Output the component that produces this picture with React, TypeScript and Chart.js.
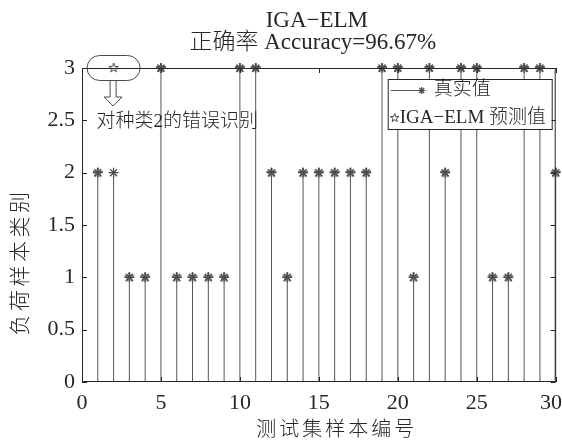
import React, { useEffect, useRef } from "react";
import { Chart, registerables } from "chart.js";

Chart.register(...registerables);

// ---- data ----
const samples = [1, 2, 3, 4, 5, 6, 7, 8, 9, 10, 11, 12, 13, 14, 15, 16, 17, 18, 19, 20, 21, 22, 23, 24, 25, 26, 27, 28, 29, 30];
const trueValues = [2, 2, 1, 1, 3, 1, 1, 1, 1, 3, 3, 2, 1, 2, 2, 2, 2, 2, 3, 3, 1, 3, 2, 3, 3, 1, 1, 3, 3, 2];
const predValues = [2, 3, 1, 1, 3, 1, 1, 1, 1, 3, 3, 2, 1, 2, 2, 2, 2, 2, 3, 3, 1, 3, 2, 3, 3, 1, 1, 3, 3, 2];
const titleLines = ["IGA\u2212ELM", "正确率 Accuracy=96.67%"];
const xLabel = "测试集样本编号";
const yLabel = "负荷样本类别";
const legendLabels = ["真实值", "IGA\u2212ELM 预测值"];
const annotationText = "对种类2的错误识别";
const wrongSample = 2;
const wrongValue = 3;

const AXIS = "#262626";
const STEM = "#555555";
const MARK = "#4a4a4a";
const FONT = '"Liberation Serif", "Noto Sans CJK SC", serif';
const W = 562;

function makePentagram(R: number, color: string): HTMLCanvasElement {
  const size = Math.ceil(R * 2 + 4);
  const c = document.createElement("canvas");
  c.width = size;
  c.height = size;
  const g = c.getContext("2d")!;
  drawPentagram(g, size / 2, size / 2, R, color);
  return c;
}

function drawPentagram(g: CanvasRenderingContext2D, cx: number, cy: number, R: number, color: string) {
  const r = R * 0.382;
  g.beginPath();
  for (let i = 0; i < 10; i++) {
    const ang = -Math.PI / 2 + (i * Math.PI) / 5;
    const rad = i % 2 === 0 ? R : r;
    const px = cx + rad * Math.cos(ang);
    const py = cy + rad * Math.sin(ang);
    if (i === 0) g.moveTo(px, py);
    else g.lineTo(px, py);
  }
  g.closePath();
  g.strokeStyle = color;
  g.lineWidth = 1;
  g.stroke();
}

function drawAsterisk(g: CanvasRenderingContext2D, cx: number, cy: number, r: number, color: string) {
  g.beginPath();
  g.moveTo(cx - r, cy);
  g.lineTo(cx + r, cy);
  g.moveTo(cx, cy - r);
  g.lineTo(cx, cy + r);
  const d = r * Math.SQRT1_2;
  g.moveTo(cx - d, cy - d);
  g.lineTo(cx + d, cy + d);
  g.moveTo(cx - d, cy + d);
  g.lineTo(cx + d, cy - d);
  g.strokeStyle = color;
  g.lineWidth = 1.2;
  g.stroke();
}

const decorPlugin = {
  id: "decor",
  afterDraw(chart: any) {
    const { ctx, chartArea: a, scales } = chart;
    const xs = scales.x;
    const ys = scales.y;
    ctx.save();

    // axes box
    ctx.strokeStyle = AXIS;
    ctx.lineWidth = 1;
    ctx.strokeRect(a.left + 0.5, a.top + 0.5, a.right - a.left - 1, a.bottom - a.top - 1);

    // inward ticks
    ctx.beginPath();
    xs.ticks.forEach((t: any) => {
      const px = Math.round(xs.getPixelForValue(t.value)) + 0.5;
      ctx.moveTo(px, a.bottom);
      ctx.lineTo(px, a.bottom - 5);
      ctx.moveTo(px, a.top);
      ctx.lineTo(px, a.top + 5);
    });
    ys.ticks.forEach((t: any) => {
      const py = Math.round(ys.getPixelForValue(t.value)) + 0.5;
      ctx.moveTo(a.left, py);
      ctx.lineTo(a.left + 5, py);
      ctx.moveTo(a.right, py);
      ctx.lineTo(a.right - 5, py);
    });
    ctx.stroke();

    // x tick labels (from the scale's ticks), kept inside the canvas
    ctx.fillStyle = AXIS;
    ctx.font = `22px ${FONT}`;
    ctx.textAlign = "center";
    ctx.textBaseline = "middle";
    xs.ticks.forEach((t: any) => {
      const label = String(t.value);
      const w = ctx.measureText(label).width;
      let px = xs.getPixelForValue(t.value);
      px = Math.min(px, W - w / 2);
      ctx.fillText(label, px, a.bottom + 21);
    });

    const cx = (a.left + a.right) / 2;

    // titles
    ctx.textAlign = "center";
    ctx.textBaseline = "alphabetic";
    ctx.font = `300 23px ${FONT}`;
    ctx.fillText(titleLines[0], cx - 2, 27);
    ctx.fillText(titleLines[1], cx - 6, 49);

    // x label
    ctx.font = `300 20px ${FONT}`;
    (ctx as any).letterSpacing = "3px";
    ctx.textBaseline = "middle";
    ctx.fillText(xLabel, cx + 18, 431);

    // y label
    ctx.save();
    ctx.translate(21, 262);
    ctx.rotate(-Math.PI / 2);
    ctx.font = `300 21px ${FONT}`;
    (ctx as any).letterSpacing = "3.5px";
    ctx.fillText(yLabel, 0, 0);
    ctx.restore();
    (ctx as any).letterSpacing = "0px";

    // annotation
    const ax = xs.getPixelForValue(wrongSample);
    const ay = ys.getPixelForValue(wrongValue);
    ctx.strokeStyle = MARK;
    ctx.lineWidth = 1;
    const ew = 53, eh = 25;
    ctx.beginPath();
    (ctx as any).roundRect(ax - ew / 2, ay - eh / 2, ew, eh, eh / 2);
    ctx.stroke();
    // hollow arrow
    const arx = ax - 0.5;
    const top = ay + 12;
    ctx.beginPath();
    ctx.moveTo(arx - 3, top);
    ctx.lineTo(arx - 3, top + 17);
    ctx.lineTo(arx - 9, top + 17);
    ctx.lineTo(arx, top + 26);
    ctx.lineTo(arx + 9, top + 17);
    ctx.lineTo(arx + 3, top + 17);
    ctx.lineTo(arx + 3, top);
    ctx.stroke();
    ctx.fillStyle = AXIS;
    ctx.textAlign = "left";
    ctx.textBaseline = "middle";
    ctx.font = `300 19px ${FONT}`;
    ctx.fillText(annotationText, ax - 17, ay + 54);

    // legend
    const lw = 164, lh = 50;
    const lx = a.right - 4 - lw;
    const ly = a.top + 11;
    ctx.fillStyle = "#ffffff";
    ctx.fillRect(lx, ly, lw, lh);
    ctx.strokeStyle = AXIS;
    ctx.strokeRect(lx + 0.5, ly + 0.5, lw, lh);
    const r1 = ly + 11.5;
    const r2 = ly + 39;
    ctx.strokeStyle = STEM;
    ctx.beginPath();
    ctx.moveTo(lx + 3, r1);
    ctx.lineTo(lx + 34, r1);
    ctx.stroke();
    drawAsterisk(ctx, lx + 34, r1, 3.5, MARK);
    drawPentagram(ctx, lx + 7, r2, 4.5, MARK);
    ctx.fillStyle = AXIS;
    ctx.font = `300 19px ${FONT}`;
    ctx.textAlign = "left";
    ctx.textBaseline = "middle";
    ctx.fillText(legendLabels[0], lx + 46, r1);
    ctx.fillText(legendLabels[1], lx + 12, r2);

    ctx.restore();
  },
};

export default function App() {
  const ref = useRef<HTMLCanvasElement | null>(null);

  useEffect(() => {
    if (!ref.current) return;
    const stemPoints: any[] = [];
    samples.forEach((s, i) => {
      stemPoints.push({ x: s, y: 0 }, { x: s, y: trueValues[i] }, { x: s, y: null });
    });
    const pent = makePentagram(5, MARK);

    const chart = new Chart(ref.current, {
      type: "scatter",
      data: {
        datasets: [
          {
            label: "stems",
            data: stemPoints,
            showLine: true,
            spanGaps: false,
            borderColor: STEM,
            borderWidth: 1,
            pointRadius: 0,
            clip: false,
          } as any,
          {
            label: legendLabels[0],
            data: samples.map((s, i) => ({ x: s, y: trueValues[i] })),
            pointStyle: "star",
            pointRadius: 5,
            pointBorderWidth: 1.3,
            pointBorderColor: MARK,
            pointBackgroundColor: "transparent",
            clip: false,
          } as any,
          {
            label: legendLabels[1],
            data: samples.map((s, i) => ({ x: s, y: predValues[i] })),
            pointStyle: pent,
            pointRadius: 5,
            pointBorderColor: MARK,
            clip: false,
          } as any,
        ],
      },
      options: {
        responsive: false,
        animation: false,
        events: [],
        layout: { padding: { left: 0, right: 2, top: 68, bottom: 0 } },
        plugins: {
          legend: { display: false },
          tooltip: { enabled: false },
          title: { display: false },
        },
        scales: {
          x: {
            type: "linear",
            min: 0,
            max: 30,
            grid: { display: false, drawTicks: false },
            border: { display: false },
            ticks: {
              display: false,
              stepSize: 5,
              padding: 0,
              maxRotation: 0,
            },
            afterFit: (s: any) => {
              s.height = 63;
              s.paddingLeft = 0;
              s.paddingRight = 0;
            },
          },
          y: {
            type: "linear",
            min: 0,
            max: 3,
            grid: { display: false, drawTicks: false },
            border: { display: false },
            ticks: {
              stepSize: 0.5,
              padding: 7,
              color: AXIS,
              font: { family: FONT, size: 22 },
              callback: (v: any) => String(v),
            },
            afterFit: (s: any) => {
              s.width = 82;
              s.paddingTop = 0;
              s.paddingBottom = 0;
            },
          },
        },
      } as any,
      plugins: [decorPlugin],
    });
    return () => chart.destroy();
  }, []);

  return (
    <div style={{ position: "absolute", left: 0, top: 0, width: 562, height: 445, background: "#fff" }}>
      <canvas ref={ref} width={562} height={445} style={{ display: "block" }} />
    </div>
  );
}
